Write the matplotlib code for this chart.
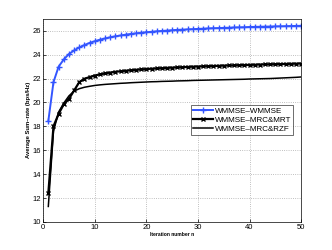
import matplotlib
matplotlib.use('Agg')
import matplotlib.pyplot as plt

# iteration numbers 1..50
n = list(range(1, 51))

wmmse_wmmse = [18.45, 21.7, 23.0, 23.6, 24.05, 24.35, 24.6, 24.8, 24.98, 25.12,
               25.25, 25.35, 25.45, 25.53, 25.6, 25.67, 25.73, 25.78, 25.83, 25.87,
               25.91, 25.95, 25.98, 26.01, 26.04, 26.07, 26.09, 26.11, 26.13, 26.15,
               26.17, 26.19, 26.21, 26.22, 26.24, 26.25, 26.27, 26.28, 26.29, 26.31,
               26.32, 26.33, 26.34, 26.35, 26.36, 26.37, 26.38, 26.39, 26.4, 26.41]

wmmse_mrt = [12.4, 18.0, 19.05, 19.85, 20.3, 21.0, 21.7, 21.98, 22.12, 22.25,
             22.35, 22.43, 22.5, 22.56, 22.61, 22.65, 22.69, 22.73, 22.76, 22.79,
             22.82, 22.84, 22.87, 22.89, 22.91, 22.93, 22.95, 22.97, 22.99, 23.0,
             23.02, 23.03, 23.05, 23.06, 23.08, 23.09, 23.1, 23.12, 23.13, 23.14,
             23.15, 23.17, 23.18, 23.19, 23.2, 23.21, 23.22, 23.23, 23.24, 23.25]

wmmse_rzf = [11.3, 17.6, 19.2, 19.95, 20.55, 20.95, 21.15, 21.27, 21.35, 21.42,
             21.47, 21.51, 21.54, 21.57, 21.6, 21.62, 21.65, 21.67, 21.69, 21.71,
             21.73, 21.74, 21.76, 21.77, 21.78, 21.8, 21.81, 21.82, 21.84, 21.85,
             21.86, 21.87, 21.88, 21.89, 21.9, 21.91, 21.92, 21.93, 21.94, 21.96,
             21.97, 21.98, 21.99, 22.0, 22.02, 22.04, 22.06, 22.08, 22.1, 22.13]

plt.rcParams['font.family'] = ['Liberation Sans', 'DejaVu Sans']

fig = plt.figure(figsize=(3.32, 2.5), dpi=100)
ax = fig.add_axes([0.13, 0.112, 0.777, 0.813])

ax.plot(n, wmmse_wmmse, color='#3355ff', marker='+', markersize=5, markeredgewidth=1.0,
        linewidth=1.4, label='WMMSE\u2013WMMSE')
ax.plot(n, wmmse_mrt, color='black', marker='x', markersize=3, markeredgewidth=1.0,
        linewidth=1.6, label='WMMSE\u2013MRC&MRT')
ax.plot(n, wmmse_rzf, color='black', linewidth=1.1, label='WMMSE\u2013MRC&RZF')

ax.set_xlim(0, 50)
ax.set_ylim(10, 27)
ax.set_xticks([0, 10, 20, 30, 40, 50])
ax.set_yticks(range(10, 27, 2))
ax.grid(True, linestyle=':', color='#aaaaaa', linewidth=0.6)
ax.tick_params(labelsize=5.5, length=2, width=0.5, direction='in', pad=1.5)
for s in ax.spines.values():
    s.set_linewidth(0.5)

ax.set_xlabel('Iteration number n', fontsize=3.6, fontweight='bold', labelpad=1)
ax.set_ylabel('Average Sum\u2013rate (bps/Hz)', fontsize=4.2, fontweight='bold', labelpad=1)

leg = ax.legend(loc='upper left', bbox_to_anchor=(0.574, 0.575), fontsize=5.8,
                frameon=True, fancybox=False, edgecolor='black', borderpad=0.25,
                labelspacing=0.2, handlelength=2.4, handletextpad=0.25, borderaxespad=0)
leg.get_frame().set_linewidth(0.5)

fig.savefig('out.png', dpi=100)
